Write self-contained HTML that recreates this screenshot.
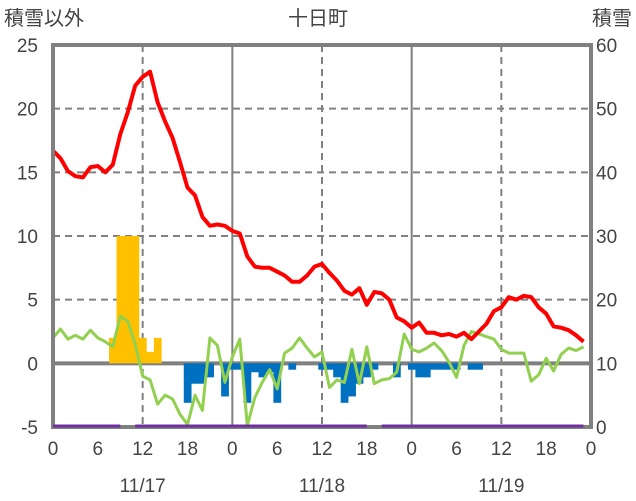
<!DOCTYPE html>
<html><head><meta charset="utf-8">
<style>
html,body{margin:0;padding:0;background:#fff;}
svg{display:block;font-family:"Liberation Sans","Noto Sans CJK JP",sans-serif;}
</style></head>
<body>
<svg id="chart" width="636" height="501" viewBox="0 0 636 501" xmlns="http://www.w3.org/2000/svg">
<text x="4" y="25" font-size="20" fill="#444">積雪以外</text>
<text x="318" y="25" font-size="20" fill="#444" text-anchor="middle">十日町</text>
<text x="632" y="25" font-size="20" fill="#444" text-anchor="end">積雪</text>
<g id="grid"></g>
<g id="bars"></g>
<g id="lines"></g>
<g id="axes"></g>
<g id="top"></g>
</svg>
<script>
const hourTicks=["0","6","12","18","0","6","12","18","0","6","12","18","0"];
const dateLabels=["11/17","11/18","11/19"];
const leftTicks=[-5,0,5,10,15,20,25];
const rightTicks=[0,10,20,30,40,50,60];
const temperature=[16.7,16.1,15.1,14.7,14.6,15.4,15.5,15.0,15.6,18.0,19.7,21.8,22.5,22.9,20.5,19.0,17.7,15.8,13.8,13.2,11.5,10.8,10.9,10.8,10.4,10.2,8.4,7.6,7.5,7.5,7.2,6.9,6.4,6.4,6.9,7.6,7.8,7.1,6.5,5.7,5.4,5.9,4.6,5.6,5.5,5.0,3.6,3.3,2.8,3.2,2.4,2.4,2.2,2.3,2.1,2.4,1.9,2.5,3.1,4.1,4.4,5.2,5.0,5.3,5.2,4.4,3.9,2.9,2.8,2.6,2.2,1.7];
const greenSeries=[2.0,2.7,1.9,2.2,1.9,2.6,2.0,1.7,1.3,3.7,3.3,1.5,-1.0,-1.3,-3.2,-2.5,-2.8,-4.0,-4.8,-2.5,-3.7,2.0,1.4,-1.5,0.5,1.9,-4.9,-2.7,-1.5,-0.5,-2.0,0.8,1.2,2.0,1.2,0.5,0.9,-1.9,-1.3,-1.5,1.1,-1.6,1.3,-1.6,-1.3,-1.2,-0.7,2.3,1.1,0.9,1.2,1.6,1.0,0.1,-1.1,1.4,2.5,2.3,2.1,1.9,1.1,0.8,0.8,0.8,-1.4,-0.9,0.4,-0.6,0.7,1.2,1.0,1.3];
const precipBars=[0,0,0,0,0,0,0,0,2.0,10,10,10,2.0,0.9,2.0,0,0,0,-3.1,-1.6,-1.6,-1.1,0,-2.6,-0.5,-0.5,-3.1,-0.7,-1.1,-0.7,-3.1,0,-0.5,0,0,0,-0.5,-0.5,-1.1,-3.1,-2.6,-1.6,-1.1,-0.5,0,0,-1.1,0,-0.5,-1.1,-1.1,-0.5,-0.5,-0.5,-0.5,0,-0.5,-0.5,0,0,0,0,0,0,0,0,0,0,0,0,0,0];
const snowDepth=[0,0,0,0,0,0,0,0,0,0,null,0,0,0,0,0,0,0,0,0,0,0,0,0,0,0,0,0,0,0,0,0,0,0,0,0,0,0,0,0,0,0,0,null,0,0,0,0,0,0,0,0,0,0,0,0,0,0,0,0,0,0,0,0,0,0,0,0,0,0,0,0];

const NS="http://www.w3.org/2000/svg";
const X0=53,X1=591,Y0=45,Y1=427,HOURS=72;
function xs(h){return X0+h*(X1-X0)/HOURS;}
function yl(v){return Y1-(v+5)*(Y1-Y0)/30;}
function yr(v){return Y1-v*(Y1-Y0)/60;}
function mk(tag,attrs,parent){const e=document.createElementNS(NS,tag);for(const k in attrs)e.setAttribute(k,attrs[k]);parent.appendChild(e);return e;}
const grid=document.getElementById('grid'),bars=document.getElementById('bars'),lines=document.getElementById('lines'),axes=document.getElementById('axes'),topG=document.getElementById('top');

leftTicks.forEach(v=>{
  if(v>-5&&v<25&&v!==0){const l=mk('line',{x1:X0,x2:X1,y1:yl(v),y2:yl(v),stroke:'#808080','stroke-width':2,'stroke-dasharray':'7,5'},grid);
  
  }
  const t=mk('text',{x:38,y:yl(v)+7,'font-size':19,fill:'#444','text-anchor':'end'},axes);t.textContent=v;
  
  
});
rightTicks.forEach(v=>{
  const t=mk('text',{x:596,y:yr(v)+7,'font-size':19,fill:'#444'},axes);t.textContent=v;
  
  
});
for(let h=12;h<HOURS;h+=12){
  const solid=h%24===0;
  const l=mk('line',{x1:xs(h),x2:xs(h),y1:Y0,y2:Y1,stroke:'#808080','stroke-width':2},grid);
  if(!solid)l.setAttribute('stroke-dasharray','7,5');
  
  
}
precipBars.forEach((v,i)=>{
  if(!v)return;
  const w=(X1-X0)/HOURS;
  const top=v>0?yl(v):yl(0),bot=v>0?yl(0):yl(v);
  const r=mk('rect',{x:xs(i)-w/2,y:top,width:w+0.3,height:bot-top,fill:v>0?'#ffc000':'#0070c0'},bars);
  
  
});
const zero=mk('line',{x1:X0,x2:X1,y1:yl(0),y2:yl(0),stroke:'#808080','stroke-width':4},grid);



function poly(arr,fy,color,w,name,parent,dy){
  let d='',pen=false;
  arr.forEach((v,i)=>{if(v===null){pen=false;return;}d+=(pen?'L':'M')+xs(i).toFixed(1)+','+(fy(v)+dy).toFixed(1);pen=true;});
  const p=mk('path',{d:d,fill:'none',stroke:color,'stroke-width':w,'stroke-linejoin':'round'},parent);
  
  
}
poly(greenSeries,yl,'#92d050',3,'green-line',lines,0);
poly(temperature,yl,'#ff0000',4,'red-line',lines,0);

const frame=mk('rect',{x:X0,y:Y0,width:X1-X0,height:Y1-Y0,fill:'none',stroke:'#808080','stroke-width':4},axes);


poly(snowDepth,yr,'#7030a0',3,'snow-depth-line',topG,-1);
hourTicks.forEach((s,i)=>{
  const t=mk('text',{x:xs(i*6),y:455,'font-size':19,fill:'#444','text-anchor':'middle'},axes);t.textContent=s;
  
  
});
dateLabels.forEach((s,i)=>{
  const t=mk('text',{x:xs(12+24*i),y:492,'font-size':19,fill:'#444','text-anchor':'middle'},axes);t.textContent=s;
  
  
});
</script>
</body></html>
